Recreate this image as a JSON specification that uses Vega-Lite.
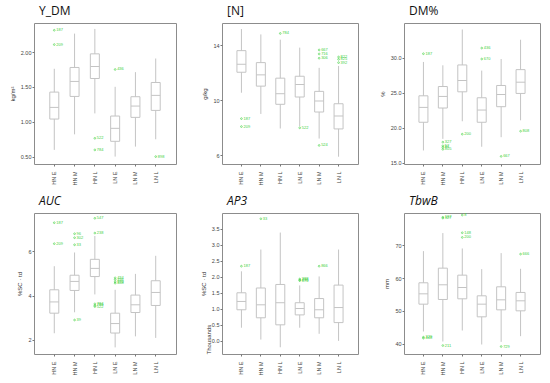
{
  "$schema": "https://vega.github.io/schema/vega-lite/v6.json",
  "background": "white",
  "padding": {"left": 8, "top": 4, "right": 2, "bottom": 5},
  "datasets": {
    "boxes": [
      {"panel": "Y_DM", "group": "HN E", "lower": 0.598, "q1": 1.04, "median": 1.207, "q3": 1.426, "upper": 1.76},
      {"panel": "Y_DM", "group": "HN M", "lower": 0.821, "q1": 1.364, "median": 1.579, "q3": 1.779, "upper": 2.264},
      {"panel": "Y_DM", "group": "HN L", "lower": 1.121, "q1": 1.621, "median": 1.793, "q3": 1.974, "upper": 2.331},
      {"panel": "Y_DM", "group": "LN E", "lower": 0.502, "q1": 0.721, "median": 0.907, "q3": 1.083, "upper": 1.502},
      {"panel": "Y_DM", "group": "LN M", "lower": 0.645, "q1": 1.064, "median": 1.226, "q3": 1.36, "upper": 1.712},
      {"panel": "Y_DM", "group": "LN L", "lower": 0.75, "q1": 1.164, "median": 1.379, "q3": 1.564, "upper": 1.907},
      {"panel": "N", "group": "HN E", "lower": 10.53, "q1": 12.02, "median": 12.6, "q3": 13.59, "upper": 15.16},
      {"panel": "N", "group": "HN M", "lower": 8.99, "q1": 11.01, "median": 11.83, "q3": 12.72, "upper": 14.77},
      {"panel": "N", "group": "HN L", "lower": 7.93, "q1": 9.69, "median": 10.46, "q3": 11.59, "upper": 14.39},
      {"panel": "N", "group": "LN E", "lower": 8.1, "q1": 10.22, "median": 11.13, "q3": 11.73, "upper": 13.81},
      {"panel": "N", "group": "LN M", "lower": 7.2, "q1": 9.13, "median": 9.93, "q3": 10.63, "upper": 12.34},
      {"panel": "N", "group": "LN L", "lower": 5.88, "q1": 7.9, "median": 8.84, "q3": 9.73, "upper": 12.48},
      {"panel": "DM", "group": "HN E", "lower": 16.74, "q1": 20.78, "median": 22.91, "q3": 24.57, "upper": 29.42},
      {"panel": "DM", "group": "HN M", "lower": 18.4, "q1": 22.82, "median": 24.48, "q3": 25.9, "upper": 28.94},
      {"panel": "DM", "group": "HN L", "lower": 20.92, "q1": 25.14, "median": 26.76, "q3": 28.99, "upper": 34.07},
      {"panel": "DM", "group": "LN E", "lower": 17.27, "q1": 20.78, "median": 22.53, "q3": 24.29, "upper": 28.18},
      {"panel": "DM", "group": "LN M", "lower": 18.64, "q1": 23.01, "median": 24.76, "q3": 26.05, "upper": 29.84},
      {"panel": "DM", "group": "LN L", "lower": 21.06, "q1": 24.91, "median": 26.52, "q3": 28.32, "upper": 32.6},
      {"panel": "AUC", "group": "HN E", "lower": 2.29, "q1": 3.2, "median": 3.71, "q3": 4.26, "upper": 5.33},
      {"panel": "AUC", "group": "HN M", "lower": 3.24, "q1": 4.23, "median": 4.64, "q3": 4.92, "upper": 5.95},
      {"panel": "AUC", "group": "HN L", "lower": 4.05, "q1": 4.86, "median": 5.23, "q3": 5.64, "upper": 6.7},
      {"panel": "AUC", "group": "LN E", "lower": 1.65, "q1": 2.3, "median": 2.73, "q3": 3.2, "upper": 4.26},
      {"panel": "AUC", "group": "LN M", "lower": 2.15, "q1": 3.23, "median": 3.58, "q3": 4.02, "upper": 4.98},
      {"panel": "AUC", "group": "LN L", "lower": 2.08, "q1": 3.55, "median": 4.14, "q3": 4.67, "upper": 5.8},
      {"panel": "AP3", "group": "HN E", "lower": 0.41, "q1": 0.97, "median": 1.23, "q3": 1.5, "upper": 2.17},
      {"panel": "AP3", "group": "HN M", "lower": 0.04, "q1": 0.72, "median": 1.125, "q3": 1.65, "upper": 2.85},
      {"panel": "AP3", "group": "HN L", "lower": -0.2, "q1": 0.5, "median": 1.19, "q3": 1.76, "upper": 3.38},
      {"panel": "AP3", "group": "LN E", "lower": 0.41, "q1": 0.81, "median": 1.01, "q3": 1.19, "upper": 1.73},
      {"panel": "AP3", "group": "LN M", "lower": 0.22, "q1": 0.72, "median": 0.97, "q3": 1.32, "upper": 2.01},
      {"panel": "AP3", "group": "LN L", "lower": 0.0, "q1": 0.57, "median": 1.04, "q3": 1.74, "upper": 2.85},
      {"panel": "TbwB", "group": "HN E", "lower": 43.7, "q1": 52.03, "median": 55.18, "q3": 58.54, "upper": 68.19},
      {"panel": "TbwB", "group": "HN M", "lower": 40.65, "q1": 53.46, "median": 57.93, "q3": 63.0, "upper": 73.68},
      {"panel": "TbwB", "group": "HN L", "lower": 44.0, "q1": 53.66, "median": 57.11, "q3": 60.87, "upper": 69.0},
      {"panel": "TbwB", "group": "LN E", "lower": 39.74, "q1": 48.17, "median": 52.03, "q3": 54.57, "upper": 62.7},
      {"panel": "TbwB", "group": "LN M", "lower": 40.55, "q1": 50.3, "median": 53.35, "q3": 57.32, "upper": 67.58},
      {"panel": "TbwB", "group": "LN L", "lower": 42.28, "q1": 50.0, "median": 53.05, "q3": 55.6, "upper": 62.8}
    ],
    "outliers": [
      {"panel": "Y_DM", "group": "HN E", "value": 2.312, "label": "187"},
      {"panel": "Y_DM", "group": "HN E", "value": 2.107, "label": "209"},
      {"panel": "Y_DM", "group": "HN L", "value": 0.764, "label": "522"},
      {"panel": "Y_DM", "group": "HN L", "value": 0.598, "label": "784"},
      {"panel": "Y_DM", "group": "LN E", "value": 1.75, "label": "436"},
      {"panel": "Y_DM", "group": "LN L", "value": 0.502, "label": "898"},
      {"panel": "N", "group": "HN E", "value": 8.65, "label": "187"},
      {"panel": "N", "group": "HN E", "value": 8.07, "label": "209"},
      {"panel": "N", "group": "HN L", "value": 14.84, "label": "784"},
      {"panel": "N", "group": "LN E", "value": 7.98, "label": "522"},
      {"panel": "N", "group": "LN M", "value": 13.64, "label": "667"},
      {"panel": "N", "group": "LN M", "value": 13.35, "label": "716"},
      {"panel": "N", "group": "LN M", "value": 13.04, "label": "306"},
      {"panel": "N", "group": "LN M", "value": 6.7, "label": "524"},
      {"panel": "N", "group": "LN L", "value": 13.13, "label": "822"},
      {"panel": "N", "group": "LN L", "value": 12.96, "label": "825"},
      {"panel": "N", "group": "LN L", "value": 12.72, "label": "392"},
      {"panel": "DM", "group": "HN E", "value": 30.6, "label": "187"},
      {"panel": "DM", "group": "HN M", "value": 17.93, "label": "327"},
      {"panel": "DM", "group": "HN M", "value": 17.4, "label": "52"},
      {"panel": "DM", "group": "HN M", "value": 17.17, "label": "81"},
      {"panel": "DM", "group": "HN M", "value": 16.9, "label": "805"},
      {"panel": "DM", "group": "HN L", "value": 19.07, "label": "200"},
      {"panel": "DM", "group": "LN E", "value": 31.41, "label": "436"},
      {"panel": "DM", "group": "LN E", "value": 29.84, "label": "670"},
      {"panel": "DM", "group": "LN M", "value": 15.89, "label": "667"},
      {"panel": "DM", "group": "LN L", "value": 19.5, "label": "808"},
      {"panel": "AUC", "group": "HN E", "value": 7.3, "label": "187"},
      {"panel": "AUC", "group": "HN E", "value": 6.35, "label": "209"},
      {"panel": "AUC", "group": "HN M", "value": 6.8, "label": "96"},
      {"panel": "AUC", "group": "HN M", "value": 6.62, "label": "302"},
      {"panel": "AUC", "group": "HN M", "value": 6.3, "label": "33"},
      {"panel": "AUC", "group": "HN M", "value": 2.89, "label": "39"},
      {"panel": "AUC", "group": "HN L", "value": 7.5, "label": "547"},
      {"panel": "AUC", "group": "HN L", "value": 6.83, "label": "238"},
      {"panel": "AUC", "group": "HN L", "value": 3.62, "label": "784"},
      {"panel": "AUC", "group": "HN L", "value": 3.55, "label": "789"},
      {"panel": "AUC", "group": "HN L", "value": 3.5, "label": "522"},
      {"panel": "AUC", "group": "LN E", "value": 4.8, "label": "434"},
      {"panel": "AUC", "group": "LN E", "value": 4.72, "label": "436"},
      {"panel": "AUC", "group": "LN E", "value": 4.62, "label": "670"},
      {"panel": "AUC", "group": "LN E", "value": 4.56, "label": "438"},
      {"panel": "AP3", "group": "HN E", "value": 2.33, "label": "187"},
      {"panel": "AP3", "group": "HN M", "value": 3.81, "label": "33"},
      {"panel": "AP3", "group": "LN E", "value": 1.93, "label": "388"},
      {"panel": "AP3", "group": "LN E", "value": 1.9, "label": "436"},
      {"panel": "AP3", "group": "LN E", "value": 1.88, "label": "670"},
      {"panel": "AP3", "group": "LN M", "value": 2.33, "label": "866"},
      {"panel": "TbwB", "group": "HN E", "value": 41.97, "label": "329"},
      {"panel": "TbwB", "group": "HN E", "value": 41.67, "label": "448"},
      {"panel": "TbwB", "group": "HN M", "value": 78.5, "label": "187"},
      {"panel": "TbwB", "group": "HN M", "value": 78.25, "label": "327"},
      {"panel": "TbwB", "group": "HN M", "value": 39.43, "label": "211"},
      {"panel": "TbwB", "group": "HN L", "value": 79.17, "label": "8"},
      {"panel": "TbwB", "group": "HN L", "value": 73.78, "label": "148"},
      {"panel": "TbwB", "group": "HN L", "value": 72.36, "label": "200"},
      {"panel": "TbwB", "group": "LN M", "value": 39.13, "label": "729"},
      {"panel": "TbwB", "group": "LN L", "value": 67.28, "label": "666"}
    ]
  },
  "columns": 3,
  "align": "each",
  "bounds": "flush",
  "spacing": {"row": 49, "column": 46},
  "concat": [
    {
      "title": {"text": "Y_DM"},
      "width": 142, "height": 141,
      "layer": [
        {"data": {"name": "boxes"}, "transform": [{"filter": "datum.panel == 'Y_DM'"}],
         "mark": {"type": "rule", "color": "#c4c4c4", "strokeWidth": 1},
         "encoding": {
           "x": {"field": "group", "type": "nominal", "sort": ["HN E", "HN M", "HN L", "LN E", "LN M", "LN L"], "scale": {"type": "band", "paddingInner": 0, "paddingOuter": 0.5}, "title": null},
           "y": {"field": "lower", "type": "quantitative", "scale": {"domain": [0.396, 2.416], "nice": false, "zero": false}, "axis": {"values": [0.5, 0.75, 1.0, 1.25, 1.5, 1.75, 2.0, 2.25], "format": ".2f", "title": "kg/m²"}},
           "y2": {"field": "upper"}}},
        {"data": {"name": "boxes"}, "transform": [{"filter": "datum.panel == 'Y_DM'"}],
         "mark": {"type": "bar", "size": 9, "fill": "white", "stroke": "#c4c4c4", "strokeWidth": 1},
         "encoding": {"x": {"field": "group", "type": "nominal", "sort": ["HN E", "HN M", "HN L", "LN E", "LN M", "LN L"]}, "y": {"field": "q1", "type": "quantitative"}, "y2": {"field": "q3"}}},
        {"data": {"name": "boxes"}, "transform": [{"filter": "datum.panel == 'Y_DM'"}],
         "mark": {"type": "tick", "size": 9, "thickness": 1, "color": "#c4c4c4", "opacity": 1},
         "encoding": {"x": {"field": "group", "type": "nominal", "sort": ["HN E", "HN M", "HN L", "LN E", "LN M", "LN L"]}, "y": {"field": "median", "type": "quantitative"}}},
        {"data": {"name": "outliers"}, "transform": [{"filter": "datum.panel == 'Y_DM'"}],
         "mark": {"type": "point", "shape": "circle", "size": 3, "stroke": "#3fd13f", "strokeWidth": 0.6, "filled": false, "opacity": 1},
         "encoding": {"x": {"field": "group", "type": "nominal", "sort": ["HN E", "HN M", "HN L", "LN E", "LN M", "LN L"]}, "y": {"field": "value", "type": "quantitative"}}},
        {"data": {"name": "outliers"}, "transform": [{"filter": "datum.panel == 'Y_DM'"}],
         "mark": {"type": "text", "align": "left", "baseline": "middle", "dx": 2, "fontSize": 4, "font": "Liberation Sans", "color": "#3fd13f"},
         "encoding": {"x": {"field": "group", "type": "nominal", "sort": ["HN E", "HN M", "HN L", "LN E", "LN M", "LN L"]}, "y": {"field": "value", "type": "quantitative"}, "text": {"field": "label"}}}
      ]
    },
    {
      "title": {"text": "[N]"},
      "width": 136, "height": 141,
      "layer": [
        {"data": {"name": "boxes"}, "transform": [{"filter": "datum.panel == 'N'"}],
         "mark": {"type": "rule", "color": "#c4c4c4", "strokeWidth": 1},
         "encoding": {
           "x": {"field": "group", "type": "nominal", "sort": ["HN E", "HN M", "HN L", "LN E", "LN M", "LN L"], "scale": {"type": "band", "paddingInner": 0, "paddingOuter": 0.5}, "title": null},
           "y": {"field": "lower", "type": "quantitative", "scale": {"domain": [5.35, 15.6], "nice": false, "zero": false}, "axis": {"values": [6, 8, 10, 12, 14], "format": "d", "title": "g/kg"}},
           "y2": {"field": "upper"}}},
        {"data": {"name": "boxes"}, "transform": [{"filter": "datum.panel == 'N'"}],
         "mark": {"type": "bar", "size": 9, "fill": "white", "stroke": "#c4c4c4", "strokeWidth": 1},
         "encoding": {"x": {"field": "group", "type": "nominal", "sort": ["HN E", "HN M", "HN L", "LN E", "LN M", "LN L"]}, "y": {"field": "q1", "type": "quantitative"}, "y2": {"field": "q3"}}},
        {"data": {"name": "boxes"}, "transform": [{"filter": "datum.panel == 'N'"}],
         "mark": {"type": "tick", "size": 9, "thickness": 1, "color": "#c4c4c4", "opacity": 1},
         "encoding": {"x": {"field": "group", "type": "nominal", "sort": ["HN E", "HN M", "HN L", "LN E", "LN M", "LN L"]}, "y": {"field": "median", "type": "quantitative"}}},
        {"data": {"name": "outliers"}, "transform": [{"filter": "datum.panel == 'N'"}],
         "mark": {"type": "point", "shape": "circle", "size": 3, "stroke": "#3fd13f", "strokeWidth": 0.6, "filled": false, "opacity": 1},
         "encoding": {"x": {"field": "group", "type": "nominal", "sort": ["HN E", "HN M", "HN L", "LN E", "LN M", "LN L"]}, "y": {"field": "value", "type": "quantitative"}}},
        {"data": {"name": "outliers"}, "transform": [{"filter": "datum.panel == 'N'"}],
         "mark": {"type": "text", "align": "left", "baseline": "middle", "dx": 2, "fontSize": 4, "font": "Liberation Sans", "color": "#3fd13f"},
         "encoding": {"x": {"field": "group", "type": "nominal", "sort": ["HN E", "HN M", "HN L", "LN E", "LN M", "LN L"]}, "y": {"field": "value", "type": "quantitative"}, "text": {"field": "label"}}}
      ]
    },
    {
      "title": {"text": "DM%"},
      "width": 136, "height": 141,
      "layer": [
        {"data": {"name": "boxes"}, "transform": [{"filter": "datum.panel == 'DM'"}],
         "mark": {"type": "rule", "color": "#c4c4c4", "strokeWidth": 1},
         "encoding": {
           "x": {"field": "group", "type": "nominal", "sort": ["HN E", "HN M", "HN L", "LN E", "LN M", "LN L"], "scale": {"type": "band", "paddingInner": 0, "paddingOuter": 0.5}, "title": null},
           "y": {"field": "lower", "type": "quantitative", "scale": {"domain": [14.8, 35.0], "nice": false, "zero": false}, "axis": {"values": [15, 17.5, 20, 22.5, 25, 27.5, 30, 32.5], "format": ".1f", "title": "%"}},
           "y2": {"field": "upper"}}},
        {"data": {"name": "boxes"}, "transform": [{"filter": "datum.panel == 'DM'"}],
         "mark": {"type": "bar", "size": 9, "fill": "white", "stroke": "#c4c4c4", "strokeWidth": 1},
         "encoding": {"x": {"field": "group", "type": "nominal", "sort": ["HN E", "HN M", "HN L", "LN E", "LN M", "LN L"]}, "y": {"field": "q1", "type": "quantitative"}, "y2": {"field": "q3"}}},
        {"data": {"name": "boxes"}, "transform": [{"filter": "datum.panel == 'DM'"}],
         "mark": {"type": "tick", "size": 9, "thickness": 1, "color": "#c4c4c4", "opacity": 1},
         "encoding": {"x": {"field": "group", "type": "nominal", "sort": ["HN E", "HN M", "HN L", "LN E", "LN M", "LN L"]}, "y": {"field": "median", "type": "quantitative"}}},
        {"data": {"name": "outliers"}, "transform": [{"filter": "datum.panel == 'DM'"}],
         "mark": {"type": "point", "shape": "circle", "size": 3, "stroke": "#3fd13f", "strokeWidth": 0.6, "filled": false, "opacity": 1},
         "encoding": {"x": {"field": "group", "type": "nominal", "sort": ["HN E", "HN M", "HN L", "LN E", "LN M", "LN L"]}, "y": {"field": "value", "type": "quantitative"}}},
        {"data": {"name": "outliers"}, "transform": [{"filter": "datum.panel == 'DM'"}],
         "mark": {"type": "text", "align": "left", "baseline": "middle", "dx": 2, "fontSize": 4, "font": "Liberation Sans", "color": "#3fd13f"},
         "encoding": {"x": {"field": "group", "type": "nominal", "sort": ["HN E", "HN M", "HN L", "LN E", "LN M", "LN L"]}, "y": {"field": "value", "type": "quantitative"}, "text": {"field": "label"}}}
      ]
    },
    {
      "title": {"text": "AUC", "fontStyle": "italic"},
      "width": 142, "height": 141,
      "layer": [
        {"data": {"name": "boxes"}, "transform": [{"filter": "datum.panel == 'AUC'"}],
         "mark": {"type": "rule", "color": "#c4c4c4", "strokeWidth": 1},
         "encoding": {
           "x": {"field": "group", "type": "nominal", "sort": ["HN E", "HN M", "HN L", "LN E", "LN M", "LN L"], "scale": {"type": "band", "paddingInner": 0, "paddingOuter": 0.5}, "title": null},
           "y": {"field": "lower", "type": "quantitative", "scale": {"domain": [1.35, 7.74], "nice": false, "zero": false}, "axis": {"values": [2, 3, 4, 5, 6, 7], "format": "d", "title": "%SC · td"}},
           "y2": {"field": "upper"}}},
        {"data": {"name": "boxes"}, "transform": [{"filter": "datum.panel == 'AUC'"}],
         "mark": {"type": "bar", "size": 9, "fill": "white", "stroke": "#c4c4c4", "strokeWidth": 1},
         "encoding": {"x": {"field": "group", "type": "nominal", "sort": ["HN E", "HN M", "HN L", "LN E", "LN M", "LN L"]}, "y": {"field": "q1", "type": "quantitative"}, "y2": {"field": "q3"}}},
        {"data": {"name": "boxes"}, "transform": [{"filter": "datum.panel == 'AUC'"}],
         "mark": {"type": "tick", "size": 9, "thickness": 1, "color": "#c4c4c4", "opacity": 1},
         "encoding": {"x": {"field": "group", "type": "nominal", "sort": ["HN E", "HN M", "HN L", "LN E", "LN M", "LN L"]}, "y": {"field": "median", "type": "quantitative"}}},
        {"data": {"name": "outliers"}, "transform": [{"filter": "datum.panel == 'AUC'"}],
         "mark": {"type": "point", "shape": "circle", "size": 3, "stroke": "#3fd13f", "strokeWidth": 0.6, "filled": false, "opacity": 1},
         "encoding": {"x": {"field": "group", "type": "nominal", "sort": ["HN E", "HN M", "HN L", "LN E", "LN M", "LN L"]}, "y": {"field": "value", "type": "quantitative"}}},
        {"data": {"name": "outliers"}, "transform": [{"filter": "datum.panel == 'AUC'"}],
         "mark": {"type": "text", "align": "left", "baseline": "middle", "dx": 2, "fontSize": 4, "font": "Liberation Sans", "color": "#3fd13f"},
         "encoding": {"x": {"field": "group", "type": "nominal", "sort": ["HN E", "HN M", "HN L", "LN E", "LN M", "LN L"]}, "y": {"field": "value", "type": "quantitative"}, "text": {"field": "label"}}}
      ]
    },
    {
      "title": {"text": "AP3", "fontStyle": "italic"},
      "width": 136, "height": 141,
      "resolve": {"axis": {"y": "independent"}},
      "layer": [
        {"data": {"name": "boxes"}, "transform": [{"filter": "datum.panel == 'AP3'"}],
         "mark": {"type": "rule", "color": "#c4c4c4", "strokeWidth": 1},
         "encoding": {
           "x": {"field": "group", "type": "nominal", "sort": ["HN E", "HN M", "HN L", "LN E", "LN M", "LN L"], "scale": {"type": "band", "paddingInner": 0, "paddingOuter": 0.5}, "title": null},
           "y": {"field": "lower", "type": "quantitative", "scale": {"domain": [-0.41, 3.99], "nice": false, "zero": false}, "axis": {"values": [0, 0.5, 1, 1.5, 2, 2.5, 3, 3.5], "format": ".1f", "title": "%SC · td"}},
           "y2": {"field": "upper"}}},
        {"data": {"name": "boxes"}, "transform": [{"filter": "datum.panel == 'AP3'"}],
         "mark": {"type": "bar", "size": 9, "fill": "white", "stroke": "#c4c4c4", "strokeWidth": 1},
         "encoding": {"x": {"field": "group", "type": "nominal", "sort": ["HN E", "HN M", "HN L", "LN E", "LN M", "LN L"]}, "y": {"field": "q1", "type": "quantitative", "axis": null}, "y2": {"field": "q3"}}},
        {"data": {"name": "boxes"}, "transform": [{"filter": "datum.panel == 'AP3'"}],
         "mark": {"type": "tick", "size": 9, "thickness": 1, "color": "#c4c4c4", "opacity": 1},
         "encoding": {"x": {"field": "group", "type": "nominal", "sort": ["HN E", "HN M", "HN L", "LN E", "LN M", "LN L"]}, "y": {"field": "median", "type": "quantitative", "axis": null}}},
        {"data": {"name": "outliers"}, "transform": [{"filter": "datum.panel == 'AP3'"}],
         "mark": {"type": "point", "shape": "circle", "size": 3, "stroke": "#3fd13f", "strokeWidth": 0.6, "filled": false, "opacity": 1},
         "encoding": {"x": {"field": "group", "type": "nominal", "sort": ["HN E", "HN M", "HN L", "LN E", "LN M", "LN L"]}, "y": {"field": "value", "type": "quantitative", "axis": null}}},
        {"data": {"name": "outliers"}, "transform": [{"filter": "datum.panel == 'AP3'"}],
         "mark": {"type": "text", "align": "left", "baseline": "middle", "dx": 2, "fontSize": 4, "font": "Liberation Sans", "color": "#3fd13f"},
         "encoding": {"x": {"field": "group", "type": "nominal", "sort": ["HN E", "HN M", "HN L", "LN E", "LN M", "LN L"]}, "y": {"field": "value", "type": "quantitative", "axis": {"orient": "left", "title": "Thousands", "titleAnchor": "start", "labels": false, "ticks": false, "domain": false, "titlePadding": 11}}, "text": {"field": "label"}}}
      ]
    },
    {
      "title": {"text": "TbwB", "fontStyle": "italic"},
      "width": 136, "height": 141,
      "layer": [
        {"data": {"name": "boxes"}, "transform": [{"filter": "datum.panel == 'TbwB'"}],
         "mark": {"type": "rule", "color": "#c4c4c4", "strokeWidth": 1},
         "encoding": {
           "x": {"field": "group", "type": "nominal", "sort": ["HN E", "HN M", "HN L", "LN E", "LN M", "LN L"], "scale": {"type": "band", "paddingInner": 0, "paddingOuter": 0.5}, "title": null},
           "y": {"field": "lower", "type": "quantitative", "scale": {"domain": [36.85, 79.8], "nice": false, "zero": false}, "axis": {"values": [40, 45, 50, 55, 60, 65, 70, 75], "format": "d", "title": "mm"}},
           "y2": {"field": "upper"}}},
        {"data": {"name": "boxes"}, "transform": [{"filter": "datum.panel == 'TbwB'"}],
         "mark": {"type": "bar", "size": 9, "fill": "white", "stroke": "#c4c4c4", "strokeWidth": 1},
         "encoding": {"x": {"field": "group", "type": "nominal", "sort": ["HN E", "HN M", "HN L", "LN E", "LN M", "LN L"]}, "y": {"field": "q1", "type": "quantitative"}, "y2": {"field": "q3"}}},
        {"data": {"name": "boxes"}, "transform": [{"filter": "datum.panel == 'TbwB'"}],
         "mark": {"type": "tick", "size": 9, "thickness": 1, "color": "#c4c4c4", "opacity": 1},
         "encoding": {"x": {"field": "group", "type": "nominal", "sort": ["HN E", "HN M", "HN L", "LN E", "LN M", "LN L"]}, "y": {"field": "median", "type": "quantitative"}}},
        {"data": {"name": "outliers"}, "transform": [{"filter": "datum.panel == 'TbwB'"}],
         "mark": {"type": "point", "shape": "circle", "size": 3, "stroke": "#3fd13f", "strokeWidth": 0.6, "filled": false, "opacity": 1},
         "encoding": {"x": {"field": "group", "type": "nominal", "sort": ["HN E", "HN M", "HN L", "LN E", "LN M", "LN L"]}, "y": {"field": "value", "type": "quantitative"}}},
        {"data": {"name": "outliers"}, "transform": [{"filter": "datum.panel == 'TbwB'"}],
         "mark": {"type": "text", "align": "left", "baseline": "middle", "dx": 2, "fontSize": 4, "font": "Liberation Sans", "color": "#3fd13f"},
         "encoding": {"x": {"field": "group", "type": "nominal", "sort": ["HN E", "HN M", "HN L", "LN E", "LN M", "LN L"]}, "y": {"field": "value", "type": "quantitative"}, "text": {"field": "label"}}}
      ]
    }
  ],
  "config": {
    "view": {"stroke": "#8c8c8c", "strokeWidth": 1},
    "axis": {"domain": false, "grid": false, "labelFont": "Liberation Sans", "labelFontSize": 5.5, "labelColor": "#444444", "tickColor": "#777777", "tickSize": 2, "labelPadding": 1, "titleFont": "Liberation Sans", "titleFontSize": 6, "titleFontWeight": "normal", "titleColor": "#333333", "titlePadding": 5},
    "axisX": {"labelAngle": -90, "labelPadding": 5, "tickSize": 2},
    "title": {"anchor": "start", "frame": "group", "font": "Open Sans", "fontSize": 12, "fontWeight": "normal", "color": "#111111", "offset": 5, "dx": 5}
  }
}
